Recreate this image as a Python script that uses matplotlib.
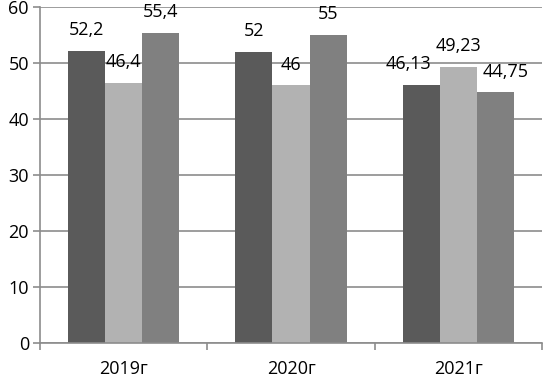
import matplotlib
matplotlib.use("Agg")
import matplotlib.pyplot as plt
import numpy as np

categories = ["2019г", "2020г", "2021г"]
series_a = [52.2, 52, 46.13]
series_b = [46.4, 46, 49.23]
series_c = [55.4, 55, 44.75]
labels_a = ["52,2", "52", "46,13"]
labels_b = ["46,4", "46", "49,23"]
labels_c = ["55,4", "55", "44,75"]

plt.rcParams['font.family'] = ['Open Sans', 'DejaVu Sans']

fig = plt.figure(figsize=(5.43, 3.77), dpi=100)
ax = fig.add_axes([40/543, 34/377, 502/543, 336/377])

x = np.arange(len(categories))
w = 37/167
colors = ["#5a5a5a", "#b2b2b2", "#808080"]
series = [series_a, series_b, series_c]
labels = [labels_a, labels_b, labels_c]
xshift = [[0, 0, -9], [0, 0, 0], [0, 0, 7]]

ax.set_axisbelow(True)
ax.yaxis.grid(True, color="#8c8c8c", linewidth=1.2)
for i, (vals, labs, c) in enumerate(zip(series, labels, colors)):
    pos = x + (i - 1) * w
    ax.bar(pos, vals, width=w, color=c, zorder=2)
    for j, (p, v, lab) in enumerate(zip(pos, vals, labs)):
        ax.annotate(lab, (p, v), xytext=(xshift[i][j], 15), textcoords="offset points",
                    ha="center", va="center", fontsize=13, color="black")

ax.set_xlim(-0.5, 2.5)
ax.set_ylim(0, 60)
ax.set_yticks(range(0, 61, 10))
ax.set_xticks(x)
ax.set_xticklabels(categories)
ax.set_xticks([-0.5, 0.5, 1.5, 2.5], minor=True)
ax.tick_params(axis="x", which="major", length=0, pad=12, labelsize=13)
ax.tick_params(axis="x", which="minor", length=5, color="#8c8c8c", width=1.2)
ax.tick_params(axis="y", length=5, color="#8c8c8c", width=1.2, labelsize=13, pad=3)
for s in ["top", "right"]:
    ax.spines[s].set_visible(False)
for s in ["left", "bottom"]:
    ax.spines[s].set_color("#8c8c8c")
    ax.spines[s].set_linewidth(1.2)

fig.savefig("out.png", dpi=100)
